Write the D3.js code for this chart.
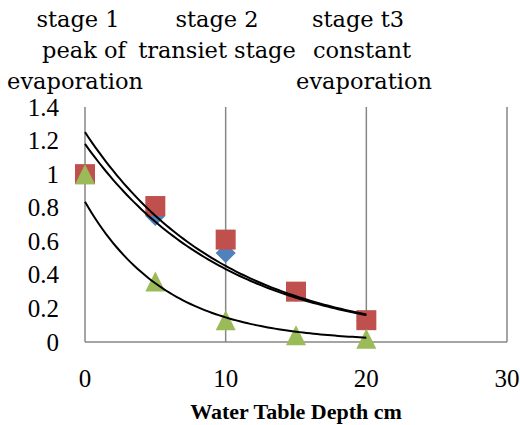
<!DOCTYPE html>
<html><head><meta charset="utf-8">
<script src="https://cdn.jsdelivr.net/npm/d3@7"></script>
<style>html,body{margin:0;padding:0;background:#fff;}</style>
</head><body>
<svg id="chart" width="520" height="425"></svg>
<script>
const depths = [0, 5, 10, 15, 20];
const seriesBlue = [1, 0.75, 0.53, 0.30, 0.13];
const seriesRed = [1, 0.81, 0.61, 0.30, 0.13];
const seriesGreen = [1, 0.36, 0.13, 0.04, 0.02];
const seriesColors = ["#4F81BD", "#C0504D", "#9BBB59"];
const seriesShapes = ["diamond", "square", "triangle"];
// exponential trendline coefficients y = a*exp(b*x)
const trendA = [1.18, 1.25, 0.835];
const trendB = [-0.0999, -0.1015, -0.174];
const xTicks = [0, 10, 20, 30];
const yTicks = [0, 0.2, 0.4, 0.6, 0.8, 1, 1.2, 1.4];
const xTitle = "Water Table Depth cm";
const stageLabels = [
  {lines: ["stage 1", "peak of", "evaporation"], cx: [78, 84, 75]},
  {lines: ["stage 2", "transiet stage"], cx: [217, 217]},
  {lines: ["stage t3", "constant", "evaporation"], cx: [358, 362, 364]}
];

const svg = d3.select("#chart");
const x = d3.scaleLinear().domain([0, 30]).range([85, 507]);
const y = d3.scaleLinear().domain([0, 1.4]).range([342, 107]);
const grid = "#868686";

// vertical gridlines
svg.append("g").selectAll("line").data(xTicks.slice(1)).join("line")
  .attr("x1", d => x(d)).attr("x2", d => x(d))
  .attr("y1", y(1.4)).attr("y2", y(0))
  .attr("stroke", grid).attr("stroke-width", 1.5);
// axes lines
svg.append("line").attr("x1", x(0)).attr("x2", x(0)).attr("y1", y(1.4)).attr("y2", y(0))
  .attr("stroke", grid).attr("stroke-width", 1.5);
svg.append("line").attr("x1", x(0)).attr("x2", x(30)).attr("y1", y(0)).attr("y2", y(0))
  .attr("stroke", grid).attr("stroke-width", 1.5);

// tick labels
svg.append("g").selectAll("text").data(yTicks).join("text")
  .attr("x", 59).attr("y", d => y(d) + 8.5)
  .attr("text-anchor", "end")
  .attr("font-family", "Liberation Serif").attr("font-size", 25)
  .attr("fill", "#000").text(d => d3.format("~g")(d));
svg.append("g").selectAll("text").data(xTicks).join("text")
  .attr("x", d => x(d)).attr("y", 387)
  .attr("text-anchor", "middle")
  .attr("font-family", "Liberation Serif").attr("font-size", 25)
  .attr("fill", "#000").text(d => d);
svg.append("text").attr("x", 296).attr("y", 419).attr("text-anchor", "middle")
  .attr("font-family", "Liberation Serif").attr("font-weight", "bold").attr("font-size", 22)
  .attr("fill", "#000").text(xTitle);

// markers (Excel-style, inscribed in a 20x20 box)
const h = 10;
const shapePath = {
  diamond: `M0,${-h}L${h},0L0,${h}L${-h},0Z`,
  square: `M${-h},${-h}H${h}V${h}H${-h}Z`,
  triangle: `M0,${-h}L${h},${h}H${-h}Z`
};
const data = [seriesBlue, seriesRed, seriesGreen];
data.forEach((vals, i) => {
  const shape = seriesShapes[i];
  svg.append("g").selectAll("path").data(vals).join("path")
    .attr("transform", (d, j) => `translate(${x(depths[j])},${y(d)})`)
    .attr("d", shapePath[shape])
    .attr("fill", seriesColors[i]);
});

// trendlines
data.forEach((vals, i) => {
  const pts = d3.range(0, 20.01, 0.25).map(t => [t, trendA[i] * Math.exp(trendB[i] * t)]);
  svg.append("path").datum(pts)
    .attr("d", d3.line().x(d => x(d[0])).y(d => y(d[1])))
    .attr("fill", "none").attr("stroke", "#000").attr("stroke-width", 2);
});

// stage header labels
const rowY = [27, 58, 89];
stageLabels.forEach(s => {
  s.lines.forEach((ln, k) => {
    svg.append("text").attr("x", s.cx[k]).attr("y", rowY[k])
      .attr("text-anchor", "middle")
      .attr("font-family", "DejaVu Serif").attr("font-size", 22.5)
      .attr("fill", "#000").text(ln);
  });
});
</script>
</body></html>
